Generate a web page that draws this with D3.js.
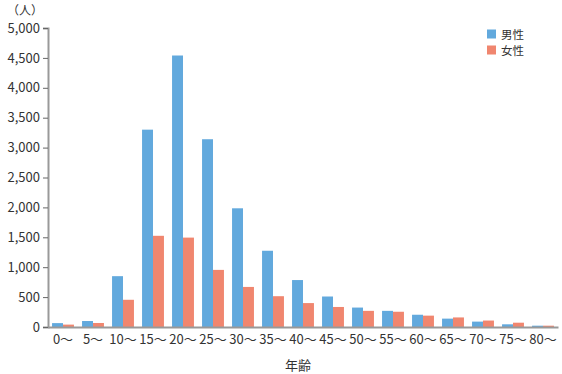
<!DOCTYPE html>
<html>
<head>
<meta charset="utf-8">
<script src="https://cdn.jsdelivr.net/npm/d3@7"></script>
<style>
  body { margin: 0; background: #fff; }
  text { font-family: "Noto Sans CJK JP", "Noto Sans", sans-serif; fill: #333; }
</style>
</head>
<body>
<div id="chart"></div>
<script>
// age groups and counts
const ageGroups = ["0〜", "5〜", "10〜", "15〜", "20〜", "25〜", "30〜", "35〜", "40〜",
                   "45〜", "50〜", "55〜", "60〜", "65〜", "70〜", "75〜", "80〜"];
const male   = [65, 100, 850, 3300, 4540, 3140, 1985, 1275, 785, 510, 325, 270, 205, 140, 90, 45, 22];
const female = [40, 67, 455, 1525, 1495, 955, 670, 515, 400, 335, 270, 255, 190, 160, 108, 72, 22];
const yTicks = [0, 500, 1000, 1500, 2000, 2500, 3000, 3500, 4000, 4500, 5000];
const seriesNames = ["男性", "女性"];
const colors = ["#62a9dd", "#f0866f"];

const W = 562, H = 374;
const margin = { top: 28, right: 4, bottom: 47, left: 48 };
const width = W - margin.left - margin.right;
const height = H - margin.top - margin.bottom;

const svg = d3.select("#chart").append("svg")
    .attr("width", W).attr("height", H);

const g = svg.append("g")
    .attr("transform", `translate(${margin.left},${margin.top})`);

const x = d3.scaleBand().domain(ageGroups).range([0, width]).paddingInner(0.27).paddingOuter(0.135);
const xSub = d3.scaleBand().domain(seriesNames).range([0, x.bandwidth()]);
const y = d3.scaleLinear().domain([0, 5000]).range([height, 0]);

// bars
const rows = ageGroups.map((a, i) => ({ age: a, vals: [male[i], female[i]] }));
const groups = g.selectAll(".grp").data(rows).enter().append("g")
    .attr("transform", d => `translate(${x(d.age)},0)`);
groups.selectAll("rect").data(d => d.vals).enter().append("rect")
    .attr("x", (d, i) => xSub(seriesNames[i]))
    .attr("width", xSub.bandwidth())
    .attr("y", d => y(d))
    .attr("height", d => height - y(d))
    .attr("fill", (d, i) => colors[i]);

// y axis
const yAxis = g.append("g")
    .call(d3.axisLeft(y).tickValues(yTicks).tickFormat(d3.format(",")).tickSize(5).tickPadding(3));
yAxis.select(".domain").attr("stroke", "#999").attr("stroke-width", 2);
yAxis.selectAll(".tick line").attr("stroke", "#666");
yAxis.selectAll("text").style("font-size", "13px").attr("fill", "#333");

// x axis
const xAxis = g.append("g")
    .attr("transform", `translate(0,${height})`)
    .call(d3.axisBottom(x).tickSize(0).tickPadding(8));
xAxis.select(".domain").attr("stroke", "#999").attr("stroke-width", 2);
xAxis.selectAll("text").style("font-size", "13px").attr("fill", "#333");

// unit label
svg.append("text").attr("x", 25).attr("y", 15).attr("text-anchor", "middle")
    .style("font-size", "12px").text("（人）");

// x axis title
svg.append("text").attr("x", 298).attr("y", 370).attr("text-anchor", "middle")
    .style("font-size", "13px").text("年齢");

// legend
const legend = svg.append("g").attr("transform", "translate(487,34)");
seriesNames.forEach((s, i) => {
  legend.append("rect").attr("x", 0).attr("y", i * 16 - 4.5).attr("width", 9).attr("height", 9)
      .attr("fill", colors[i]);
  legend.append("text").attr("x", 14).attr("y", i * 16)
      .attr("dominant-baseline", "central")
      .style("font-size", "11.5px").text(s);
});
</script>
</body>
</html>
